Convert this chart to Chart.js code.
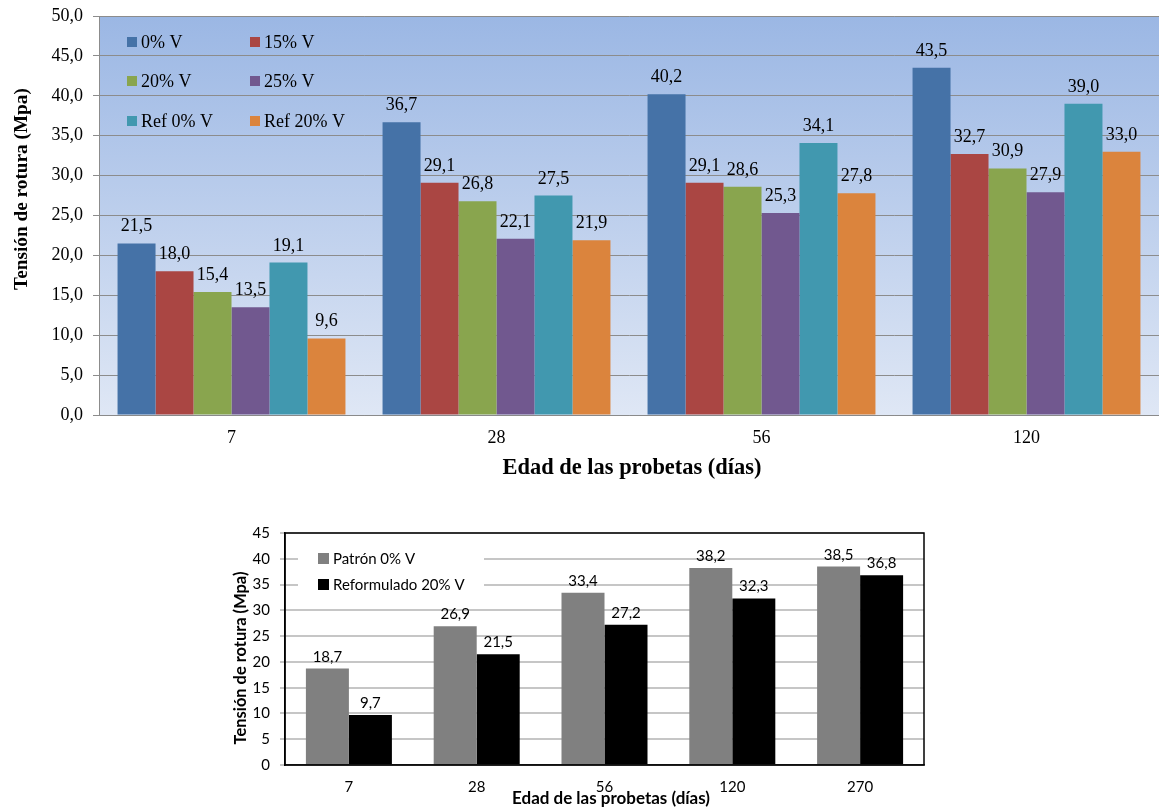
<!DOCTYPE html>
<html><head><meta charset="utf-8">
<script src="https://cdn.jsdelivr.net/npm/chart.js@4.4.0/dist/chart.umd.min.js"></script>
<style>
html,body{margin:0;padding:0;background:#fff;width:1159px;height:807px;overflow:hidden}
canvas{position:absolute;display:block}
#c1{left:0;top:0}
#c2{left:200px;top:505px}
</style></head><body>
<canvas id="c1" width="1159" height="490"></canvas>
<canvas id="c2" width="760" height="302"></canvas>
<script>
// ---------- Chart 1 data ----------
const ages1 = ['7', '28', '56', '120'];
const seriesNames1 = ['0% V', '15% V', '20% V', '25% V', 'Ref 0% V', 'Ref 20% V'];
const v0 = [21.5, 36.7, 40.2, 43.5];
const v15 = [18.0, 29.1, 29.1, 32.7];
const v20 = [15.4, 26.8, 28.6, 30.9];
const v25 = [13.5, 22.1, 25.3, 27.9];
const vRef0 = [19.1, 27.5, 34.1, 39.0];
const vRef20 = [9.6, 21.9, 27.8, 33.0];
const colors1 = ['#4572a7', '#aa4643', '#89a54e', '#71588f', '#4198af', '#db843d'];
const yTicks1 = [0, 5, 10, 15, 20, 25, 30, 35, 40, 45, 50];
const xTitle1 = 'Edad de las probetas (días)';
const yTitle1 = 'Tensión de rotura (Mpa)';

// ---------- Chart 2 data ----------
const ages2 = ['7', '28', '56', '120', '270'];
const seriesNames2 = ['Patrón 0% V', 'Reformulado 20% V'];
const vPatron = [18.7, 26.9, 33.4, 38.2, 38.5];
const vReform = [9.7, 21.5, 27.2, 32.3, 36.8];
const colors2 = ['#808080', '#000000'];
const yTicks2 = [0, 5, 10, 15, 20, 25, 30, 35, 40, 45];
const xTitle2 = 'Edad de las probetas (días)';
const yTitle2 = 'Tensión de rotura (Mpa)';

const fmt1 = v => v.toFixed(1).replace('.', ',');

const SERIF = '"Liberation Serif", "Times New Roman", serif';
const SANS = 'Lato, "Open Sans", sans-serif';

function fitFontSize(ctx, text, weight, family, width) {
  ctx.font = weight + ' 100px ' + family;
  return 100 * width / ctx.measureText(text).width;
}

const dataLabels = {
  id: 'dataLabels',
  afterDatasetsDraw(chart, args, opts) {
    const ctx = chart.ctx;
    ctx.save();
    ctx.font = opts.font;
    ctx.fillStyle = '#000';
    ctx.textAlign = 'center';
    ctx.textBaseline = 'alphabetic';
    chart.data.datasets.forEach((ds, i) => {
      const meta = chart.getDatasetMeta(i);
      meta.data.forEach((el, j) => {
        ctx.fillText(fmt1(ds.data[j]), el.x, el.y - opts.gap);
      });
    });
    ctx.restore();
  }
};

const axisTitles = {
  id: 'axisTitles',
  afterDraw(chart, args, opts) {
    const {ctx, chartArea: a} = chart;
    ctx.save();
    ctx.fillStyle = '#000';
    ctx.textAlign = 'center';
    ctx.textBaseline = 'middle';
    const xs = fitFontSize(ctx, opts.x.text, opts.weight, opts.family, opts.x.w);
    ctx.font = opts.weight + ' ' + xs + 'px ' + opts.family;
    ctx.fillText(opts.x.text, a.left + opts.x.cx, a.bottom + opts.x.cy);
    const ys = fitFontSize(ctx, opts.y.text, opts.weight, opts.family, opts.y.w);
    ctx.font = opts.weight + ' ' + ys + 'px ' + opts.family;
    ctx.translate(a.left + opts.y.cx, a.top + opts.y.cy);
    ctx.rotate(-Math.PI / 2);
    ctx.fillText(opts.y.text, 0, 0);
    ctx.restore();
  }
};

const bgGradient = {
  id: 'bgGradient',
  beforeDraw(chart) {
    const {ctx, chartArea: a} = chart;
    const g = ctx.createLinearGradient(0, a.top, 0, a.bottom);
    g.addColorStop(0, '#9bb7e4');
    g.addColorStop(1, '#dfe7f5');
    ctx.save();
    ctx.fillStyle = g;
    ctx.fillRect(a.left, a.top, a.right - a.left, a.bottom - a.top);
    ctx.restore();
  }
};

const legend1 = {
  id: 'legend1',
  afterDraw(chart) {
    const {ctx, chartArea: a} = chart;
    ctx.save();
    ctx.font = '18px ' + SERIF;
    ctx.textBaseline = 'middle';
    ctx.textAlign = 'left';
    const rows = [26, 65, 105];
    const colsSq = [28, 151];
    chart.data.datasets.forEach((ds, i) => {
      const r = Math.floor(i / 2), c = i % 2;
      const y = a.top + rows[r];
      const x = a.left + colsSq[c];
      ctx.fillStyle = ds.backgroundColor;
      ctx.fillRect(x, y - 5, 10, 10);
      ctx.fillStyle = '#000';
      ctx.fillText(ds.label, x + 14, y + 1);
    });
    ctx.restore();
  }
};

new Chart(document.getElementById('c1'), {
  type: 'bar',
  data: {
    labels: ages1,
    datasets: [v0, v15, v20, v25, vRef0, vRef20].map((d, i) => ({
      label: seriesNames1[i],
      data: d,
      backgroundColor: colors1[i],
      borderWidth: 0,
      categoryPercentage: 0.86,
      barPercentage: 1.0
    }))
  },
  options: {
    responsive: false,
    animation: false,
    layout: {padding: {top: 16, right: 0, left: 0, bottom: 0}},
    plugins: {
      legend: {display: false},
      tooltip: {enabled: false},
      dataLabels: {font: '18px ' + SERIF, gap: 12},
      axisTitles: {family: SERIF, weight: 'bold',
        x: {text: xTitle1, cx: 533, cy: 53, w: 259},
        y: {text: yTitle1, cx: -77, cy: 173, w: 202}}
    },
    scales: {
      x: {
        grid: {display: false, drawTicks: false, tickLength: 0},
        border: {display: true, color: '#8a8a8a', width: 1},
        ticks: {color: '#000', font: {family: SERIF, size: 18}, padding: 12},
        afterFit(s) { s.height = 75; s.paddingLeft = 0; s.paddingRight = 0; }
      },
      y: {
        min: 0, max: 50,
        afterBuildTicks(s) { s.ticks = yTicks1.map(v => ({value: v})); },
        grid: {color: '#8c8c8c', lineWidth: 1, drawTicks: true, tickLength: 6, tickColor: '#8c8c8c'},
        border: {display: true, color: '#8c8c8c', width: 1},
        ticks: {color: '#000', font: {family: SERIF, size: 18}, padding: 10,
                callback: v => fmt1(v)},
        afterFit(s) { s.width = 99; s.paddingTop = 0; s.paddingBottom = 0; }
      }
    }
  },
  plugins: [bgGradient, dataLabels, legend1, axisTitles]
});

const legend2 = {
  id: 'legend2',
  afterDraw(chart) {
    const {ctx, chartArea: a} = chart;
    ctx.save();
    ctx.fillStyle = '#fff';
    ctx.fillRect(a.left + 13, a.top + 12, 186, 52);
    ctx.font = '15px ' + SANS;
    ctx.textBaseline = 'middle';
    ctx.textAlign = 'left';
    const rows = [25, 51];
    chart.data.datasets.forEach((ds, i) => {
      const y = a.top + rows[i];
      const x = a.left + 33;
      ctx.fillStyle = ds.backgroundColor;
      ctx.fillRect(x, y - 5, 11, 11);
      ctx.fillStyle = '#000';
      ctx.fillText(ds.label, x + 15, y + 1);
    });
    ctx.strokeStyle = '#000';
    ctx.lineWidth = 1.5;
    ctx.strokeRect(a.left, a.top, a.right - a.left, a.bottom - a.top);
    ctx.restore();
  }
};

new Chart(document.getElementById('c2'), {
  type: 'bar',
  data: {
    labels: ages2,
    datasets: [vPatron, vReform].map((d, i) => ({
      label: seriesNames2[i],
      data: d,
      backgroundColor: colors2[i],
      borderWidth: 0,
      categoryPercentage: 0.673,
      barPercentage: 1.0
    }))
  },
  options: {
    responsive: false,
    animation: false,
    layout: {padding: {top: 28, right: 36, left: 0, bottom: 0}},
    plugins: {
      legend: {display: false},
      tooltip: {enabled: false},
      dataLabels: {font: '15px ' + SANS, gap: 7},
      axisTitles: {family: SANS, weight: 'bold',
        x: {text: xTitle2, cx: 326, cy: 34, w: 198},
        y: {text: yTitle2, cx: -44, cy: 125, w: 173}}
    },
    scales: {
      x: {
        grid: {display: false, drawTicks: false, tickLength: 0},
        border: {display: true, color: '#404040', width: 1.5},
        ticks: {color: '#000', font: {family: SANS, size: 15}, padding: 13},
        afterFit(s) { s.height = 42; }
      },
      y: {
        min: 0, max: 45,
        afterBuildTicks(s) { s.ticks = yTicks2.map(v => ({value: v})); },
        grid: {color: '#c6c6c6', lineWidth: 2, drawTicks: true, tickLength: 5, tickColor: '#c6c6c6'},
        border: {display: true, color: '#000', width: 1.5},
        ticks: {color: '#000', font: {family: SANS, size: 15}, padding: 10},
        afterFit(s) { s.width = 85; }
      }
    }
  },
  plugins: [dataLabels, legend2, axisTitles]
});
</script>
</body></html>
